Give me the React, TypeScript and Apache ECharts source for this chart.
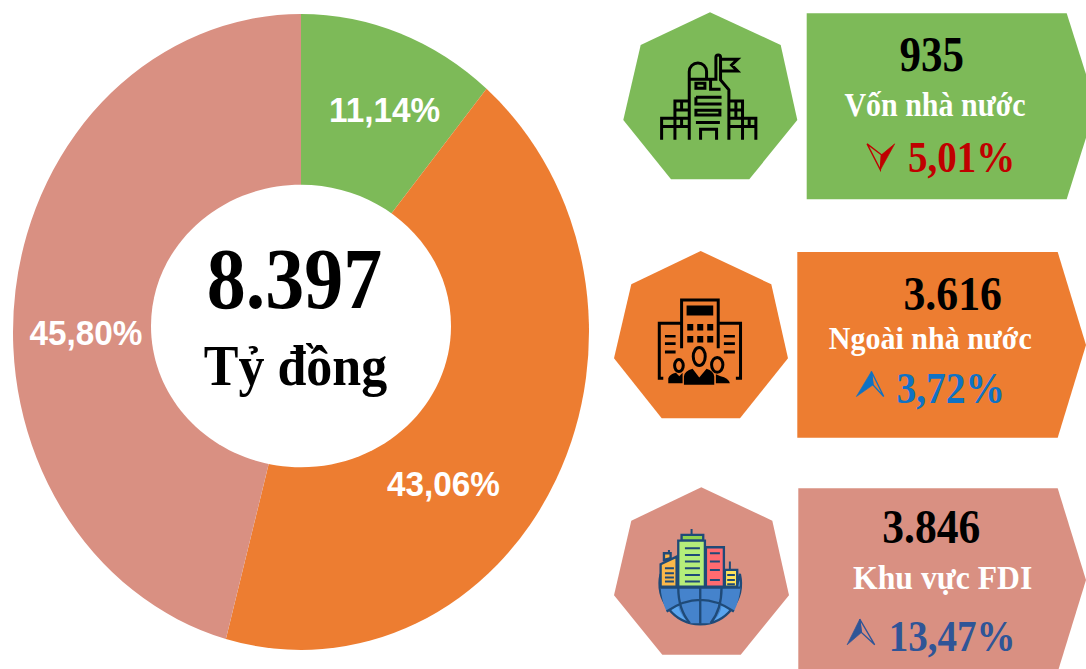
import React, { useEffect, useRef } from "react";
import * as echarts from "echarts";

const sectors = ["Vốn nhà nước", "Ngoài nhà nước", "Khu vực FDI"];
const shares = [11.14, 43.06, 45.8];
const values = ["935", "3.616", "3.846"];
const changes = ["5,01%", "3,72%", "13,47%"];
const colors = ["#7DBA58", "#ED7D31", "#D99082"];
const total = "8.397";
const unit = "Tỷ đồng";

const ICON_TOWER =
  "M238,420 L238,215 A26,26 0 0 1 290,215 L290,238 M238,238 L318,238 L318,172 A7,7 0 0 1 332,172 L332,240 L357,270 L357,420 " +
  "M332,178 L383,178 L365,195 L383,213 L332,213 " +
  "M258,250 L285,250 L285,265 L258,265 Z M302,240 L302,268 L332,268 " +
  "M258,292 L335,292 M258,292 L258,312 L335,312 M258,331 L330,331 L330,345 L258,345 Z M258,368 L330,368 " +
  "M272,420 L272,388 L320,388 L320,420 " +
  "M195,420 L195,303 L238,303 M195,330 L238,330 M215,303 L215,330 " +
  "M155,420 L155,355 L238,355 M155,380 L238,380 M215,355 L215,380 " +
  "M357,303 L398,303 L398,420 M357,330 L398,330 M378,303 L378,355 " +
  "M357,355 L438,355 L438,420 M357,380 L438,380 M418,355 L418,380";
const ICON_OFFICE_LINES =
  "M215,340 L215,195 L325,195 L325,340 M215,265 L148,265 L148,430 L160,430 M325,265 L392,265 L392,430 L378,430 " +
  "M250,365 A18,27 0 1 1 286,365 A18,27 0 1 1 250,365 Z " +
  "M194,392 A13,18 0 1 1 220,392 A13,18 0 1 1 194,392 Z " +
  "M305,390 A17,22 0 1 1 339,390 A17,22 0 1 1 305,390 Z";
const ICON_OFFICE_FILL =
  "M230,212 L310,212 L310,242 L230,242 Z " +
  "M232,267 L250,267 L250,287 L232,287 Z M262,267 L280,267 L280,287 L262,287 Z M292,267 L310,267 L310,287 L292,287 Z " +
  "M232,303 L250,303 L250,323 L232,323 Z M262,303 L280,303 L280,323 L262,323 Z M292,303 L310,303 L310,323 L292,323 Z " +
  "M165,300 L197,300 L197,308 L165,308 Z M165,322 L197,322 L197,330 L165,330 Z M165,347 L197,347 L197,356 L165,356 Z " +
  "M342,300 L375,300 L375,308 L342,308 Z M342,322 L375,322 L375,330 L342,330 Z M342,347 L375,347 L375,356 L342,356 Z " +
  "M222,450 L222,425 Q224,408 248,402 L268,428 L290,402 Q311,408 313,425 L313,450 Z " +
  "M175,445 L175,430 Q180,418 198,414 L208,424 L218,414 L218,445 Z " +
  "M318,445 L318,418 L332,424 Q355,428 360,445 Z";
const ICON_GLOBE = "M152,312 A122,124 0 1 0 390,312 L380,353 L160,353 Z";
const ICON_GLOBE_BAND =
  "M152,353 L392,353 Q388,395 372,425 Q271,355 170,425 Q155,395 152,353 Z M205,410 Q271,370 335,410 Q330,440 302,460 L240,460 Q212,440 205,410 Z";
const ICON_GLOBE_LINES =
  "M152,353 L392,353 M271,353 L271,462 M205,353 Q205,420 240,460 M335,353 Q335,420 302,460 M170,425 Q271,355 372,425";
const ICON_BUILDING_LINES =
  "M225,235 L270,235 M225,255 L270,255 M225,275 L270,275 M225,295 L270,295 M225,315 L270,315 M225,335 L270,335 " +
  "M300,250 L330,250 M300,275 L330,275 M300,300 L330,300 M300,330 L330,330 " +
  "M165,295 L192,295 M165,310 L192,310 M165,323 L192,323 M165,335 L192,335 " +
  "M352,315 L375,315 M352,330 L375,330 M352,343 L375,343 M245,177 L245,195 M360,275 L360,300 M177,240 L177,250";
const ICON_BUILDING_LEFT = "M152,283 L200,260 L200,350 L152,350 Z M162,270 L162,250 L182,250 L182,265 Z";

echarts.graphic.registerShape("iconTower", echarts.graphic.extendPath(ICON_TOWER, {}));
echarts.graphic.registerShape("iconOfficeLines", echarts.graphic.extendPath(ICON_OFFICE_LINES, {}));
echarts.graphic.registerShape("iconOfficeFill", echarts.graphic.extendPath(ICON_OFFICE_FILL, {}));
echarts.graphic.registerShape("iconGlobe", echarts.graphic.extendPath(ICON_GLOBE, {}));
echarts.graphic.registerShape("iconGlobeBand", echarts.graphic.extendPath(ICON_GLOBE_BAND, {}));
echarts.graphic.registerShape("iconGlobeLines", echarts.graphic.extendPath(ICON_GLOBE_LINES, {}));
echarts.graphic.registerShape("iconBuildingLines", echarts.graphic.extendPath(ICON_BUILDING_LINES, {}));
echarts.graphic.registerShape("iconBuildingLeft", echarts.graphic.extendPath(ICON_BUILDING_LEFT, {}));

const SERIF = '"Liberation Serif", serif';
const SANS = '"Liberation Sans", sans-serif';

function label(text: string, cx: number, baseline: number, size: number, scaleY: number, fill: string, family = SERIF) {
  return {
    type: "text",
    x: cx,
    y: baseline - 0.38 * size * scaleY,
    scaleY,
    z: 30,
    style: {
      text,
      fill,
      font: `bold ${size}px ${family}`,
      textAlign: "center",
      textVerticalAlign: "middle",
    },
  };
}

function polygon(points: number[][], fill: string, extra: any = {}) {
  return { type: "polygon", z: 10, shape: { points }, style: { fill, ...extra } };
}

function zoomGroup(y: number, children: any[]) {
  return { type: "group", x: 610, y, scaleX: 1 / 3, scaleY: 1 / 3, z: 20, children };
}

function rect(x0: number, y0: number, x1: number, y1: number, fill: string) {
  return {
    type: "rect",
    z: 20,
    shape: { x: x0, y: y0, width: x1 - x0, height: y1 - y0 },
    style: { fill, stroke: "#1F4A78", lineWidth: 7 },
  };
}

function arrow(pts: number[][], notch: number[], fillLeft: boolean, color: string) {
  const [apex, left, right] = pts;
  const filled = fillLeft ? [apex, left, notch] : [apex, right, notch];
  const open = fillLeft ? [apex, right, notch] : [apex, left, notch];
  return [
    { type: "polygon", z: 25, shape: { points: filled }, style: { fill: color, stroke: color, lineWidth: 2 } },
    { type: "polygon", z: 25, shape: { points: open }, style: { fill: "none", stroke: color, lineWidth: 4 } },
  ];
}

function buildGraphics() {
  const stroke = { fill: "none", stroke: "#000", lineWidth: 9 };
  return [
    {
      type: "ellipse",
      z: 5,
      shape: { cx: 301, cy: 326, rx: 150, ry: 141.3 },
      style: { fill: "#fff" },
    },
    label(total, 294.5, 312, 78, 1.12, "#000"),
    label(unit, 295.5, 387.7, 52, 1.08, "#000"),

    polygon([[710, 12.3], [780.7, 45], [797.3, 120], [749.3, 179.3], [671, 179.3], [623.3, 120], [640.7, 45]], colors[0]),
    polygon([[700.7, 251], [771.3, 284.3], [788, 358.3], [740, 418.3], [661.7, 418.3], [614, 358.3], [631.3, 284.3]], colors[1]),
    polygon([[701.3, 487.3], [772.3, 520.7], [789, 595.3], [740.7, 654.7], [662.3, 654.7], [614, 595.3], [631.3, 520.7]], colors[2]),

    polygon([[806.7, 13.3], [1066.7, 13.3], [1096, 106], [1066.7, 199.3], [806.7, 199.3]], colors[0]),
    polygon([[797.3, 252], [1057.7, 252], [1086, 345], [1057.7, 437.7], [797.3, 437.7]], colors[1]),
    polygon([[798.3, 488.3], [1057.7, 488.3], [1086, 580], [1057.7, 672], [798.3, 672]], colors[2]),

    zoomGroup(0, [
      { type: "iconTower", z: 20, style: stroke },
      ...arrow([[812, 510], [855, 432], [772, 432]], [815, 465], true, "#C00000"),
    ]),
    zoomGroup(235, [
      { type: "iconOfficeLines", z: 20, style: stroke },
      { type: "iconOfficeFill", z: 20, style: { fill: "#000" } },
      ...arrow([[785, 410], [740, 485], [822, 485]], [790, 450], true, "#0F72C4"),
    ]),
    zoomGroup(470, [
      { type: "iconGlobe", z: 20, style: { fill: "#5AA5EE", stroke: "#1F4A78", lineWidth: 7 } },
      { type: "iconGlobeBand", z: 20, style: { fill: "#4583CC" } },
      { type: "iconGlobeLines", z: 21, style: { fill: "none", stroke: "#1F4A78", lineWidth: 7 } },
      { type: "iconBuildingLeft", z: 22, style: { fill: "#FBB84A", stroke: "#1F4A78", lineWidth: 7 } },
      rect(215, 195, 280, 212, "#8FD14F"),
      rect(205, 212, 285, 350, "#B5EE7A"),
      rect(288, 232, 342, 350, "#FF6B70"),
      rect(345, 300, 382, 350, "#FFE35A"),
      { type: "iconBuildingLines", z: 23, style: { fill: "none", stroke: "#1F4A78", lineWidth: 6 } },
      ...arrow([[750, 448], [712, 525], [795, 525]], [755, 488], true, "#2F5597"),
    ]),

    label(values[0], 931.7, 72.7, 43, 1.18, "#000"),
    label(sectors[0], 935, 118, 30, 1.1, "#fff"),
    label(changes[0], 961.7, 173.7, 39, 1.13, "#C00000"),

    label(values[1], 952.7, 312, 43.8, 1.12, "#000"),
    label(sectors[1], 930.3, 350, 30, 1.08, "#fff"),
    label(changes[1], 950.7, 404.7, 39.5, 1.13, "#0F72C4"),

    label(values[2], 931.3, 545.7, 43.6, 1.12, "#000"),
    label(sectors[2], 942.7, 590.3, 31.7, 1.08, "#fff"),
    label(changes[2], 952, 653, 39, 1.13, "#2F5597"),

    label(`${shares[0].toFixed(2).replace(".", ",")}%`, 384.5, 122.7, 33.3, 1.05, "#fff", SANS),
    label(`${shares[1].toFixed(2).replace(".", ",")}%`, 443.5, 497, 33.3, 1.05, "#fff", SANS),
    label(`${shares[2].toFixed(2).replace(".", ",")}%`, 86, 346, 33.3, 1.05, "#fff", SANS),
  ];
}

export default function App() {
  const ref = useRef<HTMLDivElement>(null);
  useEffect(() => {
    const chart = echarts.init(ref.current!, undefined, { renderer: "svg" });
    const sum = shares.reduce((a, b) => a + b, 0);
    chart.setOption({
      animation: false,
      backgroundColor: "#fff",
      series: [
        {
          type: "custom",
          coordinateSystem: "none",
          z: 1,
          data: shares.map((v, i) => ({ value: [v, i], name: sectors[i] })),
          renderItem: (params: any, api: any) => {
            const idx = params.dataIndex;
            const before = shares.slice(0, idx).reduce((a, b) => a + b, 0);
            const v = api.value(0) as number;
            const start = -Math.PI / 2 + (before / sum) * Math.PI * 2;
            const end = start + (v / sum) * Math.PI * 2;
            return {
              type: "sector",
              x: 301,
              y: 332,
              scaleX: 1,
              scaleY: 318 / 288,
              shape: { cx: 0, cy: 0, r0: 0, r: 288, startAngle: start, endAngle: end, clockwise: true },
              style: { fill: colors[idx] },
            };
          },
        },
      ],
      graphic: { elements: buildGraphics() },
    });
    return () => chart.dispose();
  }, []);
  return <div ref={ref} style={{ position: "absolute", left: 0, top: 0, width: 1086, height: 669 }} />;
}
